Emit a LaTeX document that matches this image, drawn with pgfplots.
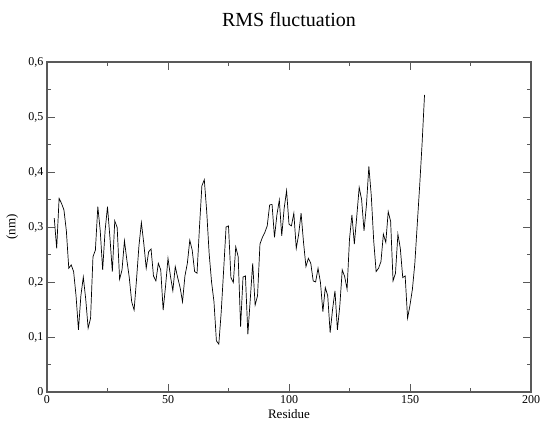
\documentclass[border=0pt]{standalone}
\usepackage{fontspec}
\setmainfont{Liberation Serif}
\usepackage{pgfplots}
\pgfplotsset{compat=1.18}
\begin{document}
\begin{tikzpicture}
\begin{axis}[
  scale only axis, width=484pt, height=330pt,
  xmin=0, xmax=200, ymin=0, ymax=0.6,
  xtick={0,50,100,150,200}, ytick={0,0.1,0.2,0.3,0.4,0.5,0.6},
  minor x tick num=1, minor y tick num=1,
  tick align=inside,
  major tick length=8pt, minor tick length=4pt,
  axis line style={line width=1.1pt, color=black!65},
  every tick/.style={black!65, line width=0.8pt},
  /pgf/number format/assume math mode=true,
  /pgf/number format/use comma,
  /pgf/number format/fixed,
  /pgf/number format/precision=1,
  ticklabel style={font=\fontsize{12}{12}\selectfont},
  title={RMS fluctuation},
  title style={font=\fontsize{20}{20}\selectfont, at={(axis description cs:0.5,1)}, anchor=base, inner sep=0pt, yshift=29pt},
  xlabel={Residue},
  xlabel style={font=\fontsize{13}{13}\selectfont, at={(axis description cs:0.5,0)}, anchor=base, inner sep=0pt, yshift=-27pt},
  ylabel={(nm)},
  ylabel style={font=\fontsize{13}{13}\selectfont, at={(axis description cs:-0.072,0.5)}, anchor=center, inner sep=0pt},
]
\coordinate (sw) at (rel axis cs:0,0);
\coordinate (ne) at (rel axis cs:1,1);
\addplot[black, line width=0.7pt, mark=none] table {
x y
3 0.316
4 0.261
5 0.352
6 0.343
7 0.331
8 0.293
9 0.225
10 0.231
11 0.219
12 0.175
13 0.113
14 0.175
15 0.209
16 0.169
17 0.116
18 0.134
19 0.246
20 0.258
21 0.337
22 0.293
23 0.222
24 0.293
25 0.337
26 0.281
27 0.219
28 0.311
29 0.299
30 0.205
31 0.222
32 0.275
33 0.240
34 0.208
35 0.164
36 0.149
37 0.205
38 0.266
39 0.308
40 0.270
41 0.225
42 0.255
43 0.260
44 0.211
45 0.202
46 0.234
47 0.222
48 0.149
49 0.193
50 0.243
51 0.211
52 0.184
53 0.228
54 0.208
55 0.190
56 0.164
57 0.211
58 0.234
59 0.276
60 0.258
61 0.219
62 0.216
63 0.299
64 0.375
65 0.386
66 0.328
67 0.252
68 0.200
69 0.164
70 0.093
71 0.087
72 0.146
73 0.222
74 0.300
75 0.302
76 0.208
77 0.199
78 0.264
79 0.246
80 0.119
81 0.209
82 0.211
83 0.105
84 0.169
85 0.234
86 0.158
87 0.175
88 0.269
89 0.281
90 0.290
91 0.302
92 0.340
93 0.341
94 0.281
95 0.322
96 0.349
97 0.284
98 0.334
99 0.366
100 0.305
101 0.302
102 0.325
103 0.261
104 0.287
105 0.325
106 0.272
107 0.228
108 0.243
109 0.234
110 0.202
111 0.200
112 0.225
113 0.199
114 0.146
115 0.190
116 0.175
117 0.108
118 0.150
119 0.184
120 0.113
121 0.157
122 0.222
123 0.210
124 0.187
125 0.278
126 0.322
127 0.269
128 0.319
129 0.372
130 0.350
131 0.293
132 0.340
133 0.410
134 0.357
135 0.275
136 0.219
137 0.225
138 0.237
139 0.287
140 0.272
141 0.328
142 0.310
143 0.202
144 0.216
145 0.287
146 0.261
147 0.208
148 0.211
149 0.134
150 0.158
151 0.187
152 0.234
153 0.305
154 0.375
155 0.452
156 0.540
};
\end{axis}
\pgfresetboundingbox
\path[use as bounding box] ([xshift=-47pt,yshift=-34pt]sw) rectangle ([xshift=13pt,yshift=62pt]ne);
\end{tikzpicture}
\end{document}
